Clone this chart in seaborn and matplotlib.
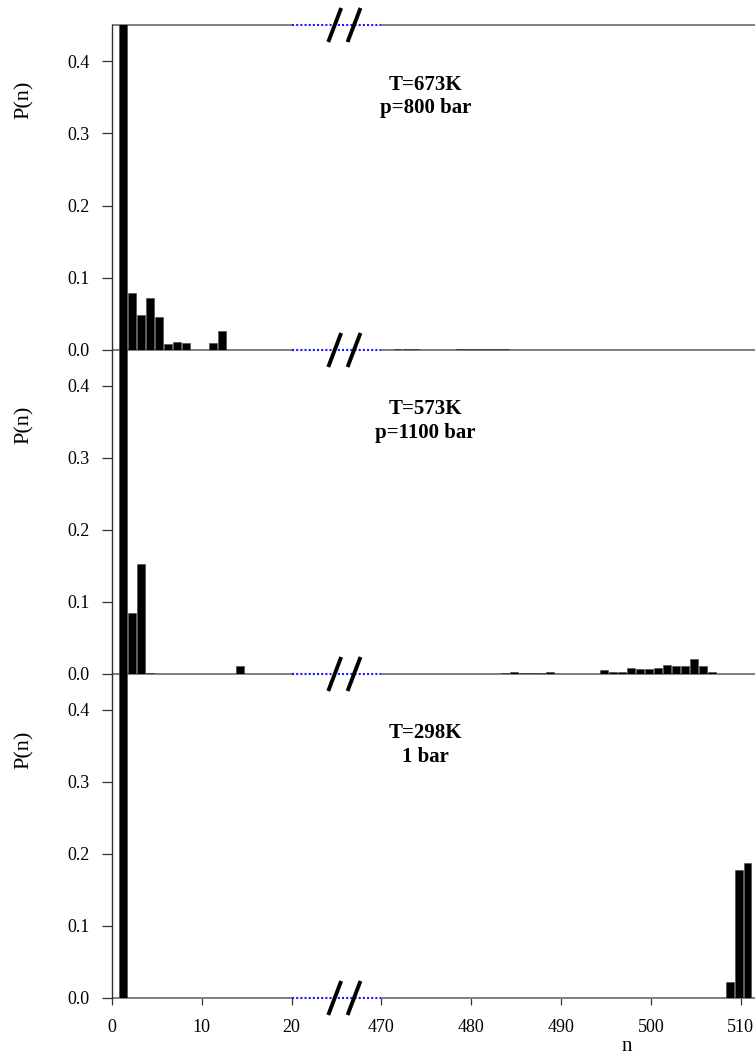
import numpy as np
import pandas as pd
import matplotlib
matplotlib.use("Agg")
import matplotlib.pyplot as plt
import matplotlib.transforms as mtransforms
import seaborn as sns

# ---------------- data ----------------
# Panel 1: T=673K, p=800 bar
n_673 = [1, 2, 3, 4, 5, 6, 7, 8, 11, 12,
         472, 473, 474, 479, 480, 481, 482, 483, 484]
p_673 = [0.68, 0.079, 0.049, 0.072, 0.046, 0.008, 0.0115, 0.010, 0.010, 0.026,
         0.0015, 0.0015, 0.002, 0.002, 0.002, 0.0015, 0.0015, 0.0015, 0.0015]

# Panel 2: T=573K, p=1100 bar
n_573 = [1, 2, 3, 4, 14,
         484, 485, 486, 487, 488, 489,
         495, 496, 497, 498, 499, 500, 501, 502, 503, 504, 505, 506, 507]
p_573 = [0.62, 0.085, 0.153, 0.0012, 0.011,
         0.001, 0.003, 0.0012, 0.0012, 0.0012, 0.003,
         0.005, 0.0025, 0.003, 0.0085, 0.0075, 0.0065, 0.009, 0.012, 0.0105,
         0.0105, 0.021, 0.011, 0.003]

# Panel 3: T=298K, 1 bar
n_298 = [1, 509, 510, 511]
p_298 = [0.61, 0.0226, 0.178, 0.188]

labels = ["T=673K\np=800 bar", "T=573K\np=1100 bar", "T=298K\n1 bar"]
tick_values = [0, 10, 20, 470, 480, 490, 500, 510]
yticks = [0.0, 0.1, 0.2, 0.3, 0.4]

# ---------------- broken-axis mapping ----------------
BREAK_LO, BREAK_HI, GAP = 20, 470, 10


def tx(n):
    n = np.asarray(n, dtype=float)
    return np.where(n <= BREAK_LO, n, n - (BREAK_HI - BREAK_LO) + GAP)


def bar_pos(n):
    n = np.asarray(n, dtype=float)
    return tx(n) + np.where(n <= BREAK_LO, 0.25, -0.22)


# ---------------- style ----------------
sns.set_theme(style="white")
plt.rcParams["font.family"] = ["Liberation Serif", "DejaVu Serif"]
for k in ["text.color", "axes.labelcolor", "xtick.color", "ytick.color"]:
    plt.rcParams[k] = "black"
plt.rcParams["axes.linewidth"] = 1.0

W, H = 755, 1058
fig = plt.figure(figsize=(W / 100, H / 100), dpi=100)
fig.patch.set_facecolor("white")

left_px, right_px = 112, 755
panel_px = [(25, 350), (350, 674), (674, 998)]
XMAX = 71.6
YMAX = 0.45
SPINE_GRAY = "#7f7f7f"

datasets = [(n_673, p_673), (n_573, p_573), (n_298, p_298)]
axes = []
for i, ((top, bot), (ns, ps)) in enumerate(zip(panel_px, datasets)):
    ax = fig.add_axes([left_px / W, 1 - bot / H, (right_px - left_px) / W, (bot - top) / H])
    ax.patch.set_visible(False)
    df = pd.DataFrame({"x": bar_pos(ns), "P": ps})
    sns.barplot(data=df, x="x", y="P", native_scale=True, color="black",
                saturation=1, width=0.86, edgecolor="#444444", linewidth=0.4,
                errorbar=None, ax=ax, zorder=3)
    ax.set_xlim(0, XMAX)
    ax.set_ylim(0, YMAX)

    for s in ["top", "right", "bottom"]:
        ax.spines[s].set_visible(False)
    ax.spines["left"].set_color("#333333")
    ax.spines["left"].set_linewidth(1.0)

    ax.set_yticks(yticks)
    ax.set_yticklabels([f"{v:.1f}" for v in yticks])
    ax.tick_params(axis="y", direction="out", length=7, width=0.9, color="#333333",
                   pad=9, labelsize=13, left=True, labelcolor="black")

    bt = mtransforms.blended_transform_factory(ax.transData, ax.transAxes)
    ylines = [0.0] if i > 0 else [0.0, 1.0]
    for yy in ylines:
        ax.plot([0, BREAK_LO], [yy, yy], color=SPINE_GRAY, lw=1.4, transform=bt,
                clip_on=False, zorder=1, solid_capstyle="butt")
        ax.plot([BREAK_LO + GAP, XMAX], [yy, yy], color=SPINE_GRAY, lw=1.4,
                transform=bt, clip_on=False, zorder=1, solid_capstyle="butt")
        ax.plot([BREAK_LO, BREAK_LO + GAP], [yy, yy], color="#1a1aff", lw=1.5,
                ls=(0, (1, 1)), transform=bt, clip_on=False, zorder=1)
        # double slash break marks
        dy = 17 / (bot - top)
        for xc in (24.8, 26.95):
            ax.plot([xc - 0.72, xc + 0.72], [yy - dy, yy + dy], color="black", lw=2.8,
                    transform=bt, clip_on=False, zorder=6, solid_capstyle="butt")

    ax.set_ylabel("P(n)", fontsize=16, rotation=90, color="black")
    label_y = (bot - [100, 425, 750][i]) / (bot - top)
    ax.yaxis.set_label_coords((34 - left_px) / (right_px - left_px), label_y)

    ax.text(34.9, 0.351, labels[i], ha="center", va="center", fontsize=15,
            fontweight="bold", linespacing=1.25, color="black")

    if i < 2:
        ax.set_xticks([])
        ax.set_xlabel("")
    else:
        ax.set_xticks(tx(tick_values))
        ax.set_xticklabels([str(v) for v in tick_values])
        ax.tick_params(axis="x", direction="out", length=5, width=0.9,
                       color="#333333", pad=10, labelsize=13, bottom=True,
                       labelcolor="black")
        ax.set_xlabel("n", fontsize=15, color="black")
        ax.xaxis.set_label_coords((627 - left_px) / (right_px - left_px), -0.12)
    axes.append(ax)

fig.savefig("out.png", dpi=100, facecolor="white")
